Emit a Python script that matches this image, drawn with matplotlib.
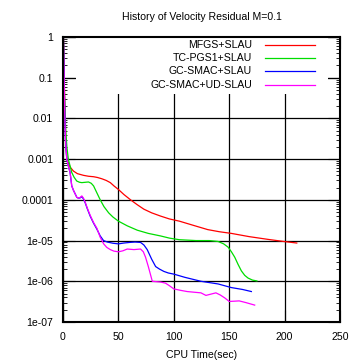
import matplotlib.pyplot as plt
from matplotlib.patches import Rectangle
from matplotlib.ticker import FixedLocator, LogLocator, NullFormatter

plt.rcParams['font.family'] = ['Liberation Sans', 'DejaVu Sans']

# CPU time (sec) and velocity residual for each scheme
mfgs_t = [0.4, 0.8, 1.5, 2.5, 3.4, 6.4, 9.4, 13, 18.5, 23, 27.6, 31, 35, 39, 42.7, 46, 50, 55, 61, 67,
          73, 80, 88, 96, 105, 118, 130.6, 141, 152, 168, 185, 198, 211]
mfgs_r = [0.9, 0.25, 0.03, 3e-3, 1e-3, 6.4e-4, 5.1e-4, 4.4e-4, 4e-4, 3.8e-4, 3.7e-4, 3.55e-4, 3.3e-4, 3e-4,
          2.65e-4, 2.2e-4, 1.8e-4, 1.35e-4, 1e-4, 7.6e-5, 5.9e-5, 4.8e-5, 4e-5, 3.4e-5, 3e-5, 2.35e-5,
          1.86e-5, 1.65e-5, 1.5e-5, 1.25e-5, 1.07e-5, 9.6e-6, 8.7e-6]

tcpgs_t = [0.4, 0.8, 1.5, 2.5, 3.5, 4.8, 7.9, 10, 12.4, 15, 17, 20, 23, 25.5, 27.6, 30.5, 33.6, 37,
           41.2, 45, 50, 58, 67, 77, 88, 96, 105, 120, 132, 140, 145, 149, 152, 155, 158, 161, 164,
           167, 171, 175]
tcpgs_r = [0.9, 0.25, 0.03, 5e-3, 2e-3, 1e-3, 4.7e-4, 3.6e-4, 2.9e-4, 2.7e-4, 2.65e-4, 2.7e-4, 2.75e-4,
           2.55e-4, 2.2e-4, 1.5e-4, 1e-4, 6.8e-5, 4.8e-5, 3.8e-5, 3e-5, 2.3e-5, 1.8e-5, 1.5e-5, 1.3e-5,
           1.15e-5, 1.05e-5, 1e-5, 1e-5, 9.5e-6, 8.3e-6, 6.9e-6, 5.3e-6, 3.9e-6, 2.6e-6, 1.8e-6, 1.4e-6,
           1.2e-6, 1.07e-6, 1.02e-6]

gcsmac_t = [0.4, 0.8, 1.5, 2.2, 3.4, 5, 6.4, 7.9, 9.5, 11, 12.5, 14, 15.5, 17, 18.5, 20, 22, 24.5,
            27.5, 30.6, 33.6, 36.6, 40, 45, 50, 55, 60, 65, 70, 73, 76, 80, 83.6, 87, 91, 95, 100,
            110, 124.5, 140, 152, 162, 170]
gcsmac_r = [0.9, 0.25, 0.016, 3e-3, 1e-3, 6.5e-4, 4.7e-4, 2.2e-4, 1.7e-4, 1.4e-4, 1.15e-4, 1.1e-4,
            1.12e-4, 1.2e-4, 1.05e-4, 8.5e-5, 6e-5, 4e-5, 2.7e-5, 1.9e-5, 1.3e-5, 1e-5, 9.2e-6, 8.6e-6,
            8.3e-6, 8.7e-6, 9e-6, 9.2e-6, 9e-6, 7.8e-6, 6e-6, 3.5e-6, 2.3e-6, 2e-6, 1.75e-6, 1.6e-6,
            1.5e-6, 1.25e-6, 1e-6, 8.6e-7, 7e-7, 6.3e-7, 5.6e-7]

gcud_t = [0.4, 0.8, 1.5, 2.2, 3.4, 5, 6.4, 7.9, 9.5, 11, 12.5, 14, 15.5, 17, 18.5, 20, 22, 24.5,
          27.5, 30.6, 33.6, 36.7, 39.5, 42.7, 46, 50, 54, 58, 61, 64, 67, 70, 72.5, 74.5, 77, 80.6,
          84, 88, 92.5, 96, 100, 106, 112, 118, 124.5, 129, 133, 138, 142, 146, 150, 155, 159, 165,
          173]
gcud_r = [0.9, 0.25, 0.016, 3e-3, 1e-3, 6.5e-4, 4.7e-4, 2.2e-4, 1.7e-4, 1.4e-4, 1.15e-4, 1.1e-4,
          1.15e-4, 1.25e-4, 1.1e-4, 8.8e-5, 6.2e-5, 4.2e-5, 2.8e-5, 2e-5, 1.2e-5, 8.3e-6, 6.8e-6,
          6e-6, 5.5e-6, 5.3e-6, 5.6e-6, 6.2e-6, 6.1e-6, 6e-6, 6.1e-6, 6.2e-6, 5.3e-6, 3.9e-6, 2.3e-6,
          1e-6, 9.8e-7, 9.6e-7, 9e-7, 7.8e-7, 6.5e-7, 6e-7, 5.6e-7, 5.4e-7, 5.2e-7, 4.5e-7, 4.8e-7,
          5.2e-7, 4.6e-7, 3.9e-7, 3.2e-7, 3.25e-7, 3.3e-7, 3e-7, 2.6e-7]

series = [
    ('MFGS+SLAU', mfgs_t, mfgs_r, '#ff0000'),
    ('TC-PGS1+SLAU', tcpgs_t, tcpgs_r, '#00dd00'),
    ('GC-SMAC+SLAU', gcsmac_t, gcsmac_r, '#0000ff'),
    ('GC-SMAC+UD-SLAU', gcud_t, gcud_r, '#ff00ff'),
]

y_ticks = [1, 0.1, 0.01, 0.001, 0.0001, 1e-05, 1e-06, 1e-07]
y_labels = ['1', '0.1', '0.01', '0.001', '0.0001', '1e-05', '1e-06', '1e-07']
x_ticks = [0, 50, 100, 150, 200, 250]

fs = 7.6
fig = plt.figure(figsize=(3.53, 3.61), dpi=100)
ax = fig.add_axes([63 / 353, 1 - 322 / 361, 277 / 353, 285 / 361])

for name, t, r, c in series:
    ax.plot(t, r, color=c, lw=0.9, zorder=3)

ax.set_yscale('log')
ax.set_xlim(0, 250)
ax.set_ylim(1e-7, 1)
ax.yaxis.set_major_locator(FixedLocator(y_ticks))
ax.set_yticklabels(y_labels)
ax.yaxis.set_minor_locator(LogLocator(base=10, subs=range(2, 10), numticks=20))
ax.yaxis.set_minor_formatter(NullFormatter())
ax.set_xticks(x_ticks)

ax.grid(True, which='major', color='black', lw=0.9)
ax.tick_params(which='both', direction='in', top=True, right=True, labelsize=fs)
ax.tick_params(axis='y', pad=7)
ax.tick_params(axis='x', pad=7)
ax.tick_params(which='major', length=8.5, width=0.8)
ax.tick_params(which='minor', length=3, width=0.6)
for s in ax.spines.values():
    s.set_linewidth(1.5)
    s.set_zorder(5)

ax.set_xlabel('CPU Time(sec)', fontsize=fs, labelpad=6)
ax.set_title('History of Velocity Residual M=0.1', fontsize=fs, pad=12)

# gnuplot-style key: opaque box hiding the grid, text right-aligned, sample line to the right
ax.add_patch(Rectangle((0.047, 0.80), 0.91, 0.20, transform=ax.transAxes,
                       facecolor='white', edgecolor='none', zorder=2.5))
key_y = [0.971, 0.925, 0.881, 0.833]
for (name, t, r, c), yk in zip(series, key_y):
    ax.text(0.682, yk, name, transform=ax.transAxes, ha='right', va='center', fontsize=fs, zorder=4)
    ax.plot([0.729, 0.910], [yk, yk], transform=ax.transAxes, color=c, lw=0.9, zorder=4)

fig.savefig('out.png', dpi=100)
